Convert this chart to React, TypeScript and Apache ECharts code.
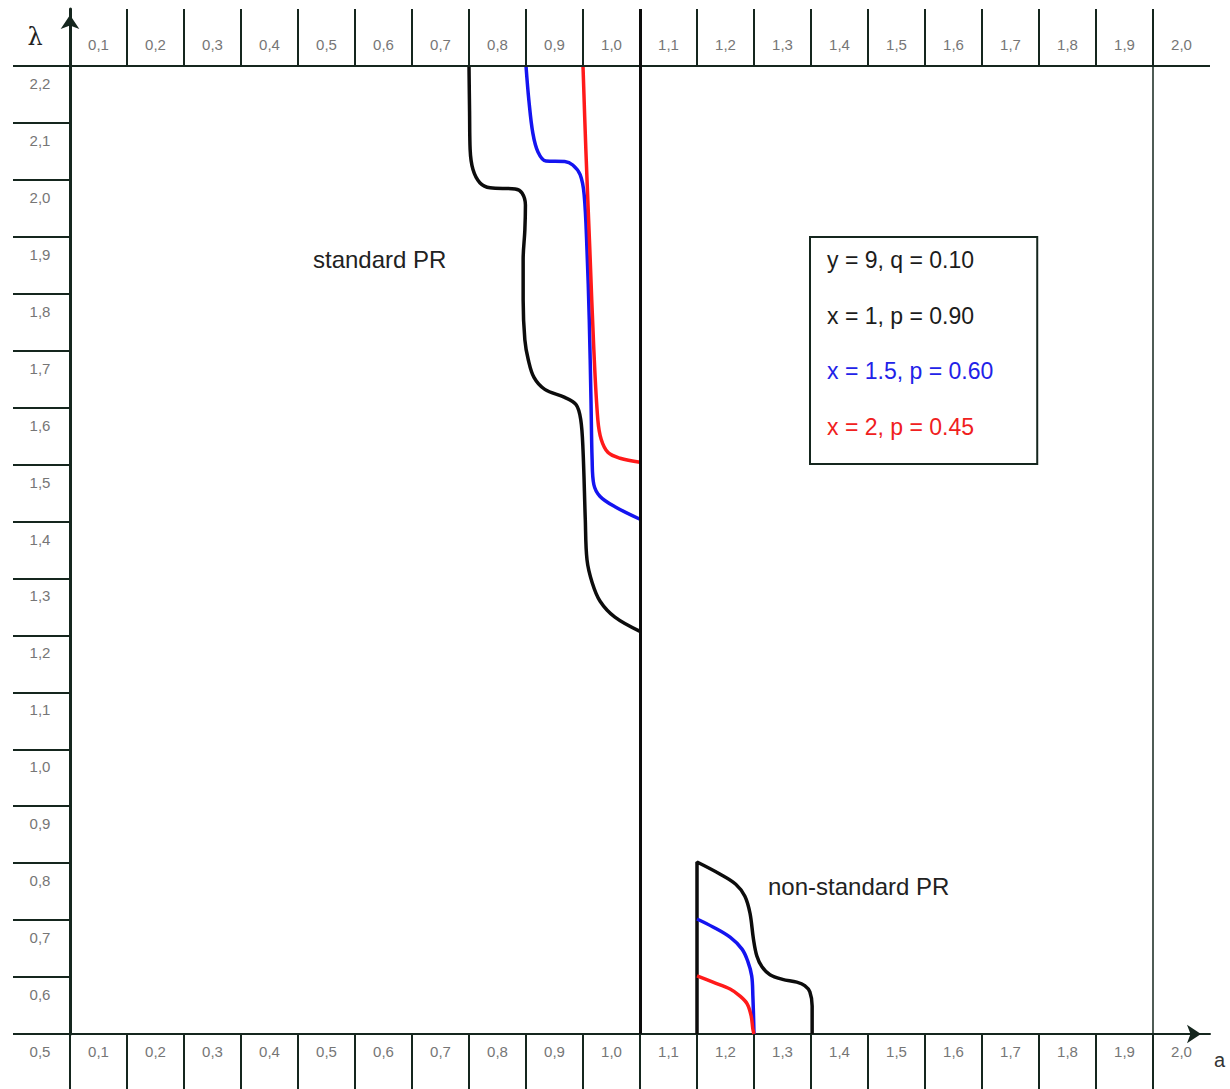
import React, { useEffect, useRef } from 'react';
import * as echarts from 'echarts';

// ---------- tick labels ----------
const xTickLabels = ['0,1', '0,2', '0,3', '0,4', '0,5', '0,6', '0,7', '0,8', '0,9', '1,0',
  '1,1', '1,2', '1,3', '1,4', '1,5', '1,6', '1,7', '1,8', '1,9', '2,0'];
const xLabelPositions = [0.05, 0.15, 0.25, 0.35, 0.45, 0.55, 0.65, 0.75, 0.85, 0.95,
  1.05, 1.15, 1.25, 1.35, 1.45, 1.55, 1.65, 1.75, 1.85, 1.95];
const bottomTickValues = [0, 0.1, 0.2, 0.3, 0.4, 0.5, 0.6, 0.7, 0.8, 0.9, 1.0,
  1.1, 1.2, 1.3, 1.4, 1.5, 1.6, 1.7, 1.8, 1.9];
const topTickValues = [0.1, 0.2, 0.3, 0.4, 0.5, 0.6, 0.7, 0.8, 0.9, 1.0,
  1.1, 1.2, 1.3, 1.4, 1.5, 1.6, 1.7, 1.8, 1.9];
const yTickLabels = ['0,5', '0,6', '0,7', '0,8', '0,9', '1,0', '1,1', '1,2', '1,3',
  '1,4', '1,5', '1,6', '1,7', '1,8', '1,9', '2,0', '2,1', '2,2'];
const yTickValues = [0.5, 0.6, 0.7, 0.8, 0.9, 1.0, 1.1, 1.2, 1.3,
  1.4, 1.5, 1.6, 1.7, 1.8, 1.9, 2.0, 2.1, 2.2];

// ---------- curves [a, λ] ----------
const standardBlack = [
  [0.700, 2.200], [0.701, 2.120], [0.702, 2.053], [0.707, 2.018], [0.719, 1.995],
  [0.737, 1.986], [0.781, 1.984], [0.793, 1.977], [0.799, 1.956], [0.798, 1.912],
  [0.795, 1.860], [0.795, 1.789], [0.798, 1.719], [0.804, 1.684], [0.814, 1.653],
  [0.833, 1.632], [0.868, 1.618], [0.888, 1.605], [0.896, 1.579], [0.900, 1.526],
  [0.904, 1.404], [0.907, 1.333], [0.916, 1.293], [0.930, 1.260], [0.956, 1.232],
  [1.000, 1.207],
];
const standardBlue = [
  [0.800, 2.200], [0.805, 2.140], [0.812, 2.082], [0.821, 2.049], [0.835, 2.033],
  [0.868, 2.032], [0.882, 2.026], [0.895, 2.009], [0.902, 1.974], [0.907, 1.877],
  [0.911, 1.754], [0.914, 1.614], [0.916, 1.509], [0.919, 1.465], [0.930, 1.444],
  [0.956, 1.426], [1.000, 1.404],
];
const standardRed = [
  [0.900, 2.200], [0.905, 2.053], [0.912, 1.877], [0.919, 1.702], [0.926, 1.579],
  [0.932, 1.544], [0.944, 1.521], [0.965, 1.511], [1.000, 1.504],
];
const nonStandardBlack = [
  [1.100, 0.500], [1.100, 0.802], [1.140, 0.781], [1.168, 0.763], [1.184, 0.742],
  [1.193, 0.712], [1.199, 0.667], [1.205, 0.637], [1.214, 0.618],
  [1.228, 0.604], [1.250, 0.596], [1.275, 0.591], [1.289, 0.585], [1.298, 0.574],
  [1.302, 0.549], [1.302, 0.500],
];
const nonStandardBlue = [
  [1.100, 0.702], [1.128, 0.688], [1.158, 0.670], [1.179, 0.649], [1.189, 0.628],
  [1.196, 0.602], [1.198, 0.567], [1.200, 0.500],
];
const nonStandardRed = [
  [1.100, 0.602], [1.128, 0.591], [1.158, 0.579], [1.175, 0.567], [1.188, 0.553],
  [1.195, 0.532], [1.198, 0.509], [1.200, 0.500],
];

const legendItems = [
  { name: 'y = 9, q = 0.10', color: '#1c1c1c' },
  { name: 'x = 1, p = 0.90', color: '#1c1c1c' },
  { name: 'x = 1.5, p = 0.60', color: '#2222e8' },
  { name: 'x = 2, p = 0.45', color: '#f02020' },
];

const AXIS = '#15261e';
const LABEL = '#767676';
const FONT = '"Liberation Sans", Arial, sans-serif';
const BLACK = '#0c0c0c';
const BLUE = '#1414f0';
const RED = '#ff1a1a';

function curve(name: string, data: number[][], color: string) {
  return {
    type: 'line',
    name,
    data,
    xAxisIndex: 0,
    yAxisIndex: 0,
    symbol: 'none',
    showSymbol: false,
    smooth: 0.35,
    silent: true,
    z: 4,
    lineStyle: { color, width: 3.5 },
    itemStyle: { color },
  };
}

export default function App() {
  const ref = useRef<HTMLDivElement>(null);

  useEffect(() => {
    document.body.style.margin = '0';
    if (!ref.current) return;
    const chart = echarts.init(ref.current, undefined, { renderer: 'svg' });

    const xFormatter = (v: number) => xTickLabels[Math.round(v * 10 - 0.5)] ?? '';
    const yFormatter = (v: number) => yTickLabels[Math.round((v - 0.5) * 10)] ?? '';

    const option: any = {
      animation: false,
      backgroundColor: '#ffffff',
      grid: { left: 70, right: 20, top: 9, bottom: 55, containLabel: false },
      xAxis: [
        {
          type: 'value', min: 0, max: 2, position: 'bottom',
          axisLine: {
            show: true, onZero: false,
            lineStyle: { color: AXIS, width: 2 },
            symbol: ['none', 'arrow'], symbolSize: [14, 14], symbolOffset: [0, -9],
          },
          axisTick: {
            show: true, customValues: bottomTickValues, length: 55, inside: false,
            lineStyle: { color: AXIS, width: 2 },
          },
          axisLabel: {
            show: true, customValues: xLabelPositions, formatter: xFormatter, margin: 10,
            color: LABEL, fontSize: 15, fontFamily: FONT,
          },
          splitLine: { show: false },
        },
        {
          type: 'value', min: 0, max: 2, position: 'top',
          axisLine: { show: false, onZero: false },
          axisTick: {
            show: true, customValues: topTickValues, length: 57, inside: true,
            lineStyle: { color: AXIS, width: 2 },
          },
          axisLabel: {
            show: true, inside: true, customValues: xLabelPositions, formatter: xFormatter, margin: 28,
            color: LABEL, fontSize: 15, fontFamily: FONT,
          },
          splitLine: { show: false },
        },
      ],
      yAxis: {
        type: 'value', min: 0.5, max: 2.3, position: 'left',
        axisLine: {
          show: true, onZero: false,
          lineStyle: { color: AXIS, width: 3 },
          symbol: ['none', 'arrow'], symbolSize: [14, 14], symbolOffset: [0, -6],
        },
        axisTick: {
          show: true, customValues: yTickValues, length: 57, inside: false,
          lineStyle: { color: AXIS, width: 2 },
        },
        axisLabel: {
          show: true, customValues: yTickValues, formatter: yFormatter, margin: 30,
          align: 'center', verticalAlign: 'top', padding: [10, 0, 0, 0],
          color: LABEL, fontSize: 15, fontFamily: FONT,
        },
        splitLine: { show: false },
      },
      legend: {
        left: 810, top: 237, orient: 'vertical', icon: 'none',
        itemWidth: 0, itemHeight: 24, itemGap: 32,
        padding: [11, 44, 26, 12],
        borderColor: AXIS, borderWidth: 2, backgroundColor: '#ffffff',
        selectedMode: false,
        textStyle: { fontSize: 23, fontFamily: FONT, color: '#1c1c1c' },
        data: legendItems.map((it) => ({ name: it.name, textStyle: { color: it.color } })),
      },
      series: [
        {
          type: 'line', name: legendItems[0].name, data: [], symbol: 'none',
          lineStyle: { color: BLACK }, itemStyle: { color: BLACK }, silent: true,
          markLine: {
            silent: true, symbol: ['none', 'none'], label: { show: false },
            lineStyle: { color: AXIS, width: 2, type: 'solid' },
            emphasis: { disabled: true },
            data: [
              { yAxis: 2.2 },
              { xAxis: 1.0, lineStyle: { color: BLACK, width: 3, type: 'solid' } },
              { xAxis: 1.9, lineStyle: { color: AXIS, width: 1.5, type: 'solid' } },
            ],
          },
        },
        curve(legendItems[1].name, standardBlack, BLACK),
        curve(legendItems[2].name, standardBlue, BLUE),
        curve(legendItems[3].name, standardRed, RED),
        curve(legendItems[1].name, nonStandardBlack, BLACK),
        curve(legendItems[2].name, nonStandardBlue, BLUE),
        curve(legendItems[3].name, nonStandardRed, RED),
      ],
      graphic: [
        { type: 'text', x: 35, y: 37, style: { text: 'λ', fontSize: 24, fontFamily: '"DejaVu Serif", serif', fill: '#222', align: 'center', verticalAlign: 'middle' } },
        { type: 'text', x: 1214, y: 1060, style: { text: 'a', fontSize: 20, fontFamily: FONT, fill: '#333', align: 'left', verticalAlign: 'middle' } },
        { type: 'text', x: 313, y: 259, style: { text: 'standard PR', fontSize: 24, fontFamily: FONT, fill: '#222', align: 'left', verticalAlign: 'middle' } },
        { type: 'text', x: 768, y: 886, style: { text: 'non-standard PR', fontSize: 24, fontFamily: FONT, fill: '#222', align: 'left', verticalAlign: 'middle' } },
      ],
    };

    chart.setOption(option);
    return () => chart.dispose();
  }, []);

  return <div ref={ref} style={{ width: 1230, height: 1089 }} />;
}
